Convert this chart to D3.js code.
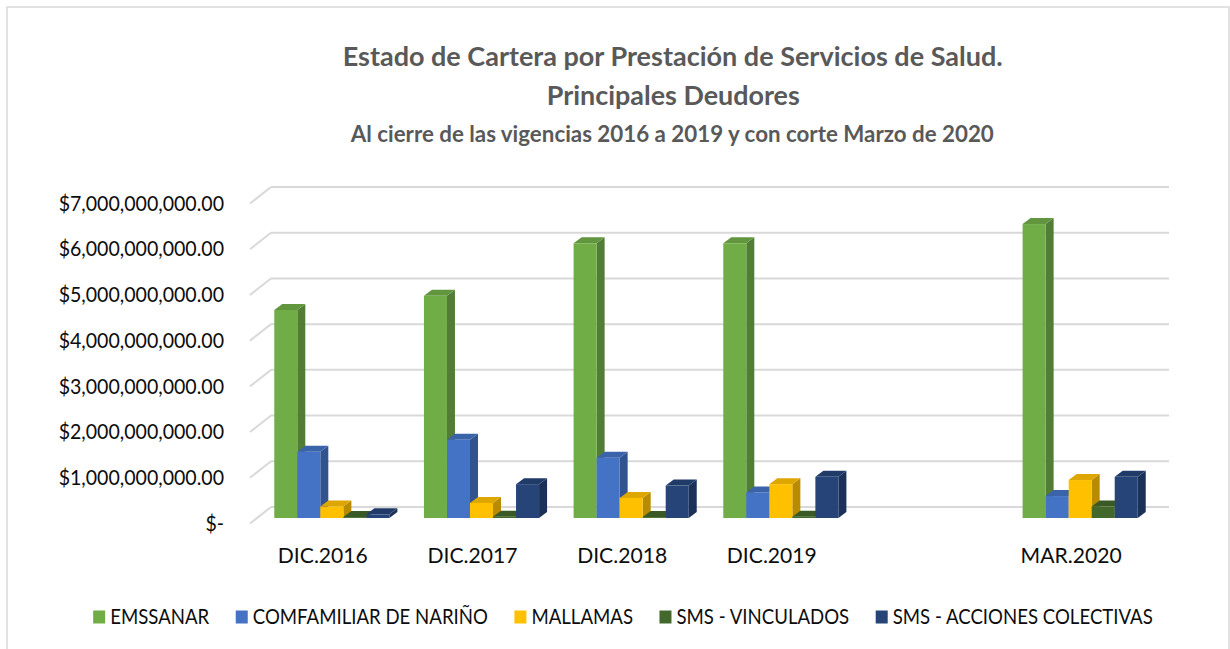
<!DOCTYPE html>
<html lang="es">
<head>
<meta charset="utf-8">
<title>Estado de Cartera</title>
<script src="https://cdn.jsdelivr.net/npm/d3@7"></script>
<style>
  body { margin: 0; background: #fff; }
  svg { display: block; font-family: Lato, "Open Sans", sans-serif; }
  .title { fill: #595959; font-weight: bold; text-anchor: middle; }
  .grid line { stroke: #d9d9d9; stroke-width: 2; }
  .yaxis text, .xaxis text { fill: #0d0d0d; }
  .legend text { fill: #0d0d0d; font-size: 20.8px; }
</style>
</head>
<body>
<svg width="1230" height="649"></svg>
<script>
// data (in pesos)
var categories = ["DIC.2016", "DIC.2017", "DIC.2018", "DIC.2019", "", "MAR.2020"];
var seriesNames = ["EMSSANAR", "COMFAMILIAR DE NARIÑO", "MALLAMAS", "SMS - VINCULADOS", "SMS - ACCIONES COLECTIVAS"];
var emssanar      = [4.55e9, 4.86e9, 6.01e9, 6.01e9, null, 6.43e9];
var comfamiliar   = [1.45e9, 1.71e9, 1.32e9, 0.56e9, null, 0.48e9];
var mallamas      = [0.25e9, 0.33e9, 0.44e9, 0.74e9, null, 0.83e9];
var smsVinculados = [0.02e9, 0.03e9, 0.02e9, 0.03e9, null, 0.25e9];
var smsAcciones   = [0.08e9, 0.74e9, 0.71e9, 0.90e9, null, 0.90e9];
var yTicks = [0, 1e9, 2e9, 3e9, 4e9, 5e9, 6e9, 7e9];
var colors = ["#70AD47", "#4472C4", "#FFC000", "#43682B", "#264478"];

var values = [emssanar, comfamiliar, mallamas, smsVinculados, smsAcciones];

var svg = d3.select("svg");

// chart border
svg.append("rect")
  .attr("x", 7).attr("y", 7).attr("width", 1222).attr("height", 660)
  .attr("fill", "none").attr("stroke", "#d9d9d9").attr("stroke-width", 1.5);

// titles
svg.append("text").attr("class", "title")
  .attr("x", 672.7).attr("y", 66).style("font-size", "26.8px")
  .attr("textLength", 660).attr("lengthAdjust", "spacingAndGlyphs")
  .text("Estado de Cartera por Prestación de Servicios de Salud.");
svg.append("text").attr("class", "title")
  .attr("x", 673.3).attr("y", 105).style("font-size", "26.8px")
  .attr("textLength", 253).attr("lengthAdjust", "spacingAndGlyphs")
  .text("Principales Deudores");
svg.append("text").attr("class", "title")
  .attr("x", 672.3).attr("y", 141.7).style("font-size", "23.2px")
  .attr("textLength", 643).attr("lengthAdjust", "spacingAndGlyphs")
  .text("Al cierre de las vigencias 2016 a 2019 y con corte Marzo de 2020");

// 3d-ish geometry: back wall, floor depth, bar placement
var floorDx = -21, floorDy = 16.5;
var barDx = -14, barDy = 11;
var depthDx = 8, depthDy = -6;

var x = d3.scaleBand().domain(categories).range([271, 1169]);
var x1 = d3.scaleBand().domain(seriesNames).range([0, x.bandwidth()]).paddingOuter(0.75);
var y = d3.scaleLinear().domain([0, 7e9]).range([507, 187]);

// narrow the wide fallback font a bit, like the original Calibri
function squeeze(sel, k) {
  sel.each(function() {
    var w = this.getComputedTextLength();
    d3.select(this).attr("textLength", w * k).attr("lengthAdjust", "spacingAndGlyphs");
  });
}

// gridlines on back wall + side wall diagonals
var grid = svg.append("g").attr("class", "grid");
grid.selectAll(".h").data(yTicks).enter().append("line")
  .attr("x1", 271).attr("x2", 1169)
  .attr("y1", function(d) { return y(d); }).attr("y2", function(d) { return y(d); });
grid.selectAll(".d").data(yTicks).enter().append("line")
  .attr("x1", 271 + floorDx).attr("x2", 271)
  .attr("y1", function(d) { return y(d) + floorDy; }).attr("y2", function(d) { return y(d); });

// y axis labels at the front edge
var yFront = y.copy().range([507 + floorDy, 187 + floorDy]);
var fmt = d3.format("$,.2f");
var yAxis = svg.append("g").attr("class", "yaxis")
  .attr("transform", "translate(" + (271 + floorDx) + ",0)")
  .call(d3.axisLeft(yFront).tickValues(yTicks).tickSize(0).tickPadding(26)
    .tickFormat(function(d) { return d === 0 ? "$-" : fmt(d); }));
yAxis.select(".domain").remove();
yAxis.selectAll("text").style("font-size", "20.8px").style("font-family", "Lato, sans-serif");
squeeze(yAxis.selectAll("text"), 0.94);

// x axis labels at the front of the floor
var xFront = x.copy().range([271 + floorDx, 1169 + floorDx]);
var xAxis = svg.append("g").attr("class", "xaxis")
  .attr("transform", "translate(-2," + (507 + floorDy) + ")")
  .call(d3.axisBottom(xFront).tickSize(0));
xAxis.select(".domain").remove();
xAxis.selectAll("text").attr("y", 32).attr("dy", "0.35em")
  .style("font-size", "22px").style("font-family", "Lato, sans-serif");
squeeze(xAxis.selectAll("text"), 0.96);

// bars
var bars = [];
categories.forEach(function(c, ci) {
  seriesNames.forEach(function(s, si) {
    var v = values[si][ci];
    if (v == null) return;
    bars.push({ cat: c, series: s, si: si, value: v });
  });
});

var g = svg.append("g").attr("class", "bars");
var bar = g.selectAll("g").data(bars).enter().append("g");

function geo(d) {
  var x0 = x(d.cat) + x1(d.series) + barDx;
  var w = x1.bandwidth();
  var yt = y(d.value) + barDy;
  var yb = y(0) + barDy;
  return { x0: x0, w: w, yt: yt, yb: yb };
}

bar.append("polygon")
  .attr("points", function(d) {
    var p = geo(d);
    return [[p.x0 + p.w, p.yt], [p.x0 + p.w + depthDx, p.yt + depthDy],
            [p.x0 + p.w + depthDx, p.yb + depthDy], [p.x0 + p.w, p.yb]].join(" ");
  })
  .attr("fill", function(d) { return d3.color(colors[d.si]).darker(0.9); });

bar.append("polygon")
  .attr("points", function(d) {
    var p = geo(d);
    return [[p.x0, p.yt], [p.x0 + p.w, p.yt],
            [p.x0 + p.w + depthDx, p.yt + depthDy], [p.x0 + depthDx, p.yt + depthDy]].join(" ");
  })
  .attr("fill", function(d) { return d3.color(colors[d.si]).darker(0.4); });

bar.append("rect")
  .attr("x", function(d) { return geo(d).x0; })
  .attr("y", function(d) { return geo(d).yt; })
  .attr("width", function(d) { return geo(d).w; })
  .attr("height", function(d) { var p = geo(d); return p.yb - p.yt; })
  .attr("fill", function(d) { return colors[d.si]; });

// legend
var legend = svg.append("g").attr("class", "legend");
var items = legend.selectAll("g").data(seriesNames).enter().append("g");
items.append("rect").attr("width", 12).attr("height", 13).attr("y", -6.5)
  .attr("fill", function(d, i) { return colors[i]; });
items.append("text").attr("x", 17).attr("dy", "0.35em").text(function(d) { return d; });
squeeze(items.selectAll("text"), 0.895);

var pos = 0;
items.each(function() {
  var w = 17 + (+this.querySelector("text").getAttribute("textLength"));
  d3.select(this).attr("data-x", pos);
  pos += w + 26.5;
});
var total = pos - 26.5;
var start = 623 - total / 2;
items.attr("transform", function() {
  return "translate(" + (start + (+this.getAttribute("data-x"))) + ",617)";
});
</script>
</body>
</html>
